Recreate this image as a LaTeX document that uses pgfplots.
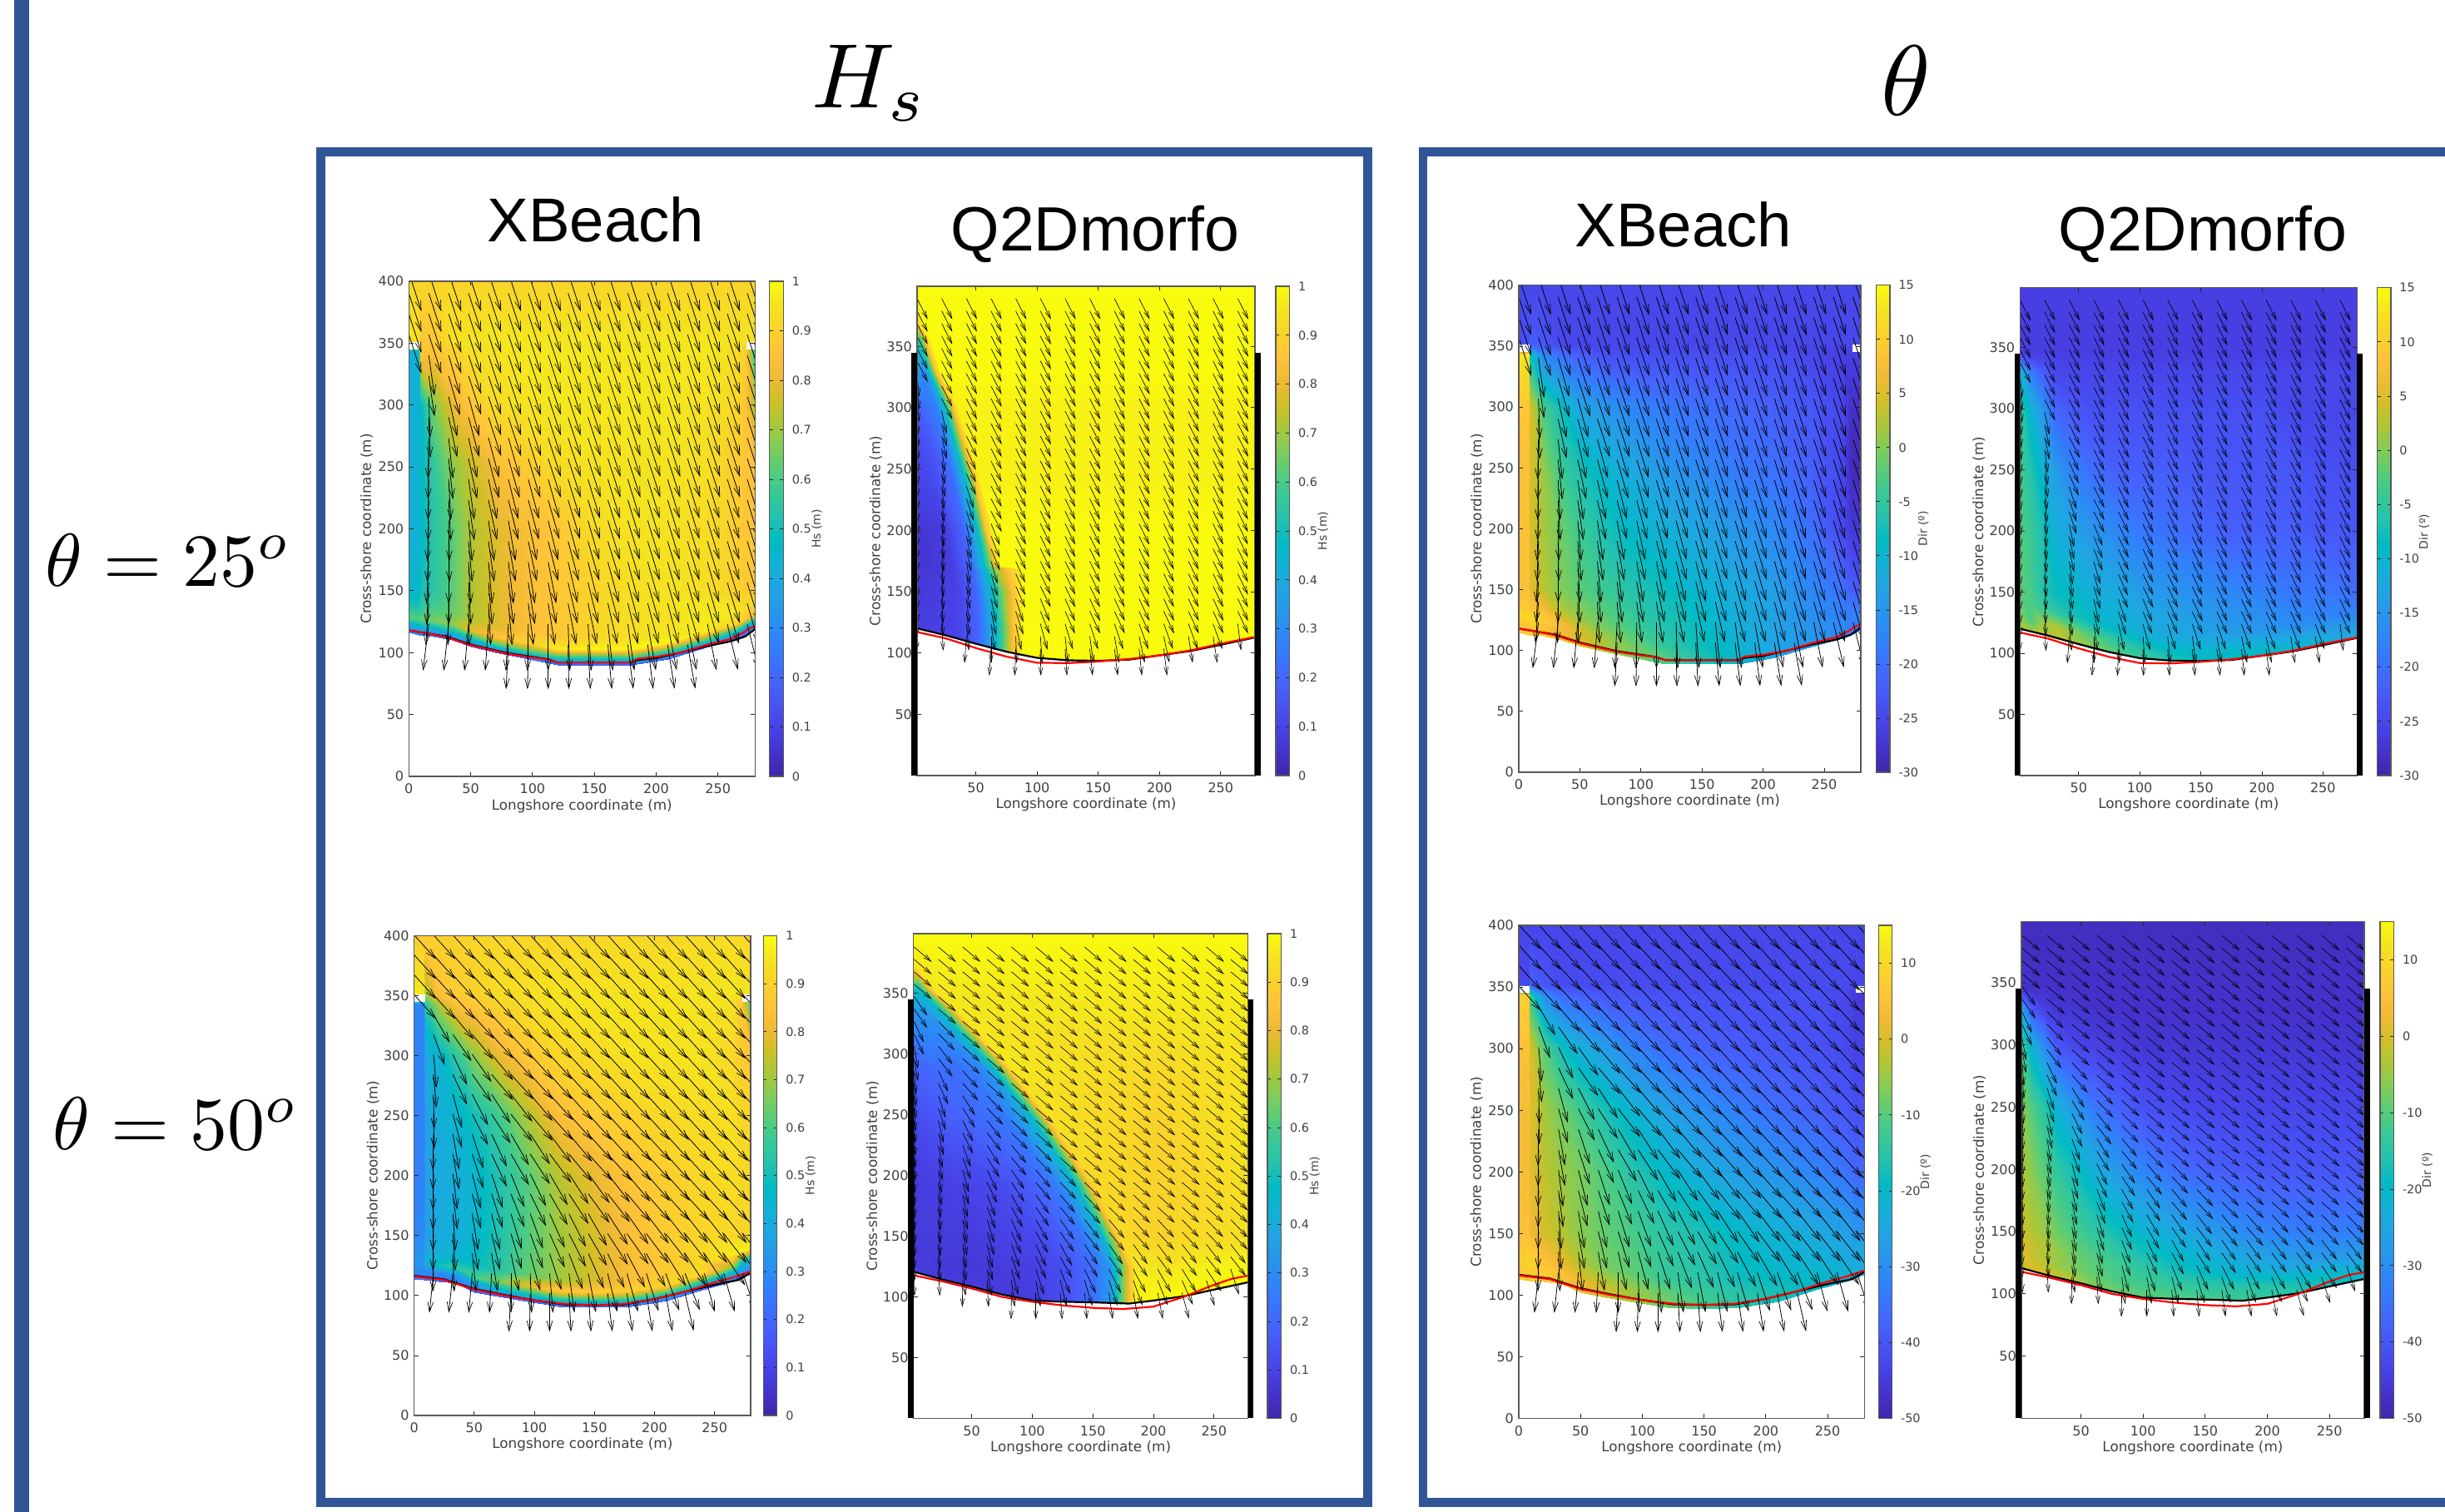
\documentclass[border=0pt]{standalone}
\usepackage{pgfplots}
\pgfplotsset{compat=1.18}
\usepackage{pgfplotstable}
\usetikzlibrary{arrows.meta}
\usepackage{fontspec}
\setmainfont{DejaVu Sans}
\newfontfamily\lib{Liberation Sans}
\definecolor{framec}{HTML}{2F5597}
\definecolor{txt}{gray}{0.25}
\pgfplotsset{colormap={parula}{rgb=(.2422,.1504,.6603) rgb=(.2647,.1978,.7952) rgb=(.2783,.2559,.8991) rgb=(.2810,.3228,.9579) rgb=(.2699,.3892,.9906) rgb=(.2206,.4603,.9973) rgb=(.1786,.5289,.9682) rgb=(.1540,.5902,.9218) rgb=(.1248,.6459,.8883) rgb=(.0689,.6948,.8394) rgb=(.0067,.7312,.7660) rgb=(.1408,.7584,.6842) rgb=(.2161,.7843,.5923) rgb=(.3406,.8008,.4789) rgb=(.5044,.7993,.3480) rgb=(.6720,.7793,.2227) rgb=(.8203,.7498,.1535) rgb=(.9393,.7288,.2100) rgb=(.9970,.7659,.2199) rgb=(.9786,.8280,.1633) rgb=(.9597,.8916,.1233) rgb=(.9763,.9831,.0538)}}
% ---------- arrows: tail rows, length, direction
\newcommand\ARstart[3]{\gdef\tbl{}\gdef\axo{#1}\gdef\adx{#2}\gdef\aN{#3}\pgfmathtruncatemacro\tmpn{#3-1}\xdef\aNm{\tmpn}}
\newcommand\ARe[4]{\ifnum#2=99 \else\pgfmathsetmacro\xx{\axo+#1*\adx}\pgfmathsetmacro\uu{#4*sin(#2)}\pgfmathsetmacro\vv{-#4*cos(#2)}\xdef\tbl{\tbl\xx\space#3\space\uu\space\vv\noexpand\\}\fi}
\newcommand\AR[3]{\foreach \yy in {#1}{\foreach \a [count=\i from 0] in {#3}{\ARe{\i}{\a}{\yy}{#2}\global\let\lasta\a\xdef\lasti{\i}}\pgfmathtruncatemacro\nx{\lasti+1}\ifnum\nx<\aN\relax\foreach \j in {\nx,...,\aNm}{\ARe{\j}{\lasta}{\yy}{#2}}\fi}}
\newcommand\ARend[1]{\edef\xtmp{\noexpand\pgfplotstableread[row sep=crcr]{x y u v\noexpand\\ \unexpanded\expandafter{\tbl}}\noexpand#1}\xtmp}
% ---------- colour fields
\newcommand\Fstart[3]{\gdef\flist{}\gdef\FX{#1}\gdef\FS{#2}\gdef\FN{#3}\pgfmathtruncatemacro\tmpn{#3-1}\xdef\FNm{\tmpn}}
\newcommand\Fe[2]{\def\ii{#1}\pgfmathsetmacro\fx{{\curx}[\ii]}\pgfmathsetmacro\fy{\cury}\xdef\flist{\flist(\fx,\fy)[#2]}}
\newcommand\FR[3]{\edef\curx{#1}\def\cury{#2}\foreach \v [count=\k from 0] in {#3}{\Fe{\k}{\v}\global\let\lastv\v\xdef\lastk{\k}}\pgfmathtruncatemacro\nk{\lastk+1}\ifnum\nk<\FN\relax\foreach \j in {\nk,...,\FNm}{\Fe{\j}{\lastv}}\fi}
\newcommand\RY[2]{\FR{\FX}{#1}{#2}}
\newcommand\RS[2]{\FR{\FX}{{\FS}[\ii]+#1}{#2}}
\newcommand\RX[3]{\FR{#2}{#1}{#3}}
\newcommand\RXY[3]{\FR{#1}{{#2}[\ii]}{#3}}
\def\XX{0,8,9,20,35,50,70,90,120,150,180,210,240,265,272,280}
\def\XQ{2,4,10,20,30,45,60,80,100,125,150,175,200,225,250,278}
% P1 Hs XBeach 25
\Fstart{\XX}{118,116,116,115,112,107,102,98,92,92,92,97,106,113,116,120}{16}
\RS{-2}{.27,.27,.27,.27,.14}
\RS{0}{.30,.30,.30,.30,.30,.32,.34,.36,.37,.37,.37,.37,.36,.32,.29,.29}
\RS{5}{.42,.42,.44,.44,.48,.54,.60,.62,.58,.58,.60,.62,.62,.54,.45,.42}
\RS{11}{.62,.62,.64,.66,.68,.80,.86,.89,.97,.99,.99,.99,.97,.92,.87,.82}
\RS{20}{.52,.52,.56,.60,.64,.72,.78,.83,.87,.91,.94,.95,.97,.96,.93,.93}
\RY{150}{.45,.45,.50,.55,.62,.72,.78,.83,.87,.91,.94,.95,.94,.90,.88,.87}
\RY{200}{.43,.43,.47,.54,.62,.72,.78,.83,.87,.93,.95,.95,.93,.89,.87,.86}
\RY{250}{.43,.43,.47,.56,.68,.75,.83,.87,.93,.95,.95,.95,.94,.88,.86,.85}
\RY{300}{.43,.43,.47,.66,.80,.87,.93,.95,.96,.96,.96,.96,.95,.92,.86,.72}
\RY{343}{.43,.43,.87,.85,.90,.94,.95,.96,.96,.96,.96,.96,.96,.94,.90,.55}
\RY{352}{.95,.95,.87,.87,.94,.95,.96,.96,.96,.96,.96,.96,.96,.95,.95,.95}
\RY{400}{.91}
\global\let\fA\flist
% P3 Hs XBeach 50
\Fstart{\XX}{116,115,115,114,112,105,101,98,93,92,93,98,107,114,117,120}{16}
\RS{-2}{.25,.25,.25,.25,.14}
\RS{0}{.27,.27,.27,.27,.27,.30,.32,.35,.36,.36,.36,.36,.35,.32,.27,.27}
\RS{5}{.30,.30,.30,.30,.34,.40,.48,.52,.58,.60,.60,.60,.54,.44,.36,.34}
\RS{11}{.33,.33,.42,.50,.55,.60,.66,.78,.89,.90,.90,.92,.92,.72,.52,.45}
\RS{20}{.32,.32,.40,.42,.45,.48,.54,.62,.70,.77,.84,.88,.92,.97,.98,.98}
\RY{150}{.29,.29,.37,.40,.42,.45,.52,.60,.70,.77,.84,.88,.91,.92,.91,.91}
\RY{200}{.27,.27,.37,.40,.42,.45,.52,.60,.73,.80,.86,.89,.92,.93,.92,.92}
\RY{250}{.27,.27,.37,.42,.45,.50,.58,.70,.84,.88,.90,.92,.93,.94,.92,.92}
\RY{300}{.28,.28,.40,.44,.55,.68,.80,.86,.91,.93,.95,.95,.95,.92,.88,.86}
\RY{343}{.28,.28,.55,.72,.85,.87,.90,.93,.95,.95,.95,.95,.95,.94,.87,.60}
\RY{352}{.96,.96,.70,.85,.88,.90,.93,.94,.95,.95,.95,.95,.95,.96,.95,.95}
\RY{400}{.89,.89,.89,.90,.90,.91,.91,.91,.91,.92,.92,.92,.93,.93,.92,.92}
\global\let\fC\flist
% P5 Dir XBeach 25
\Fstart{\XX}{118,116,116,115,112,107,102,98,92,92,92,97,106,113,116,120}{16}
\RS{-3}{9,9,10,8,7,5,2,0,-3,-7,-10,-13,-15,-17,-18,-18}
\RS{5}{9,9,10,8,7,5,2,0,-3,-7,-10,-13,-15,-17,-18,-18}
\RS{11}{11,11,12,10,7,4,1,-1,-5,-8,-10,-13,-15,-17,-18,-18}
\RS{20}{9,9,9,7,3,1,-1,-3,-6,-8,-11,-13,-16,-18,-19,-20}
\RY{150}{8,8,6,3,0,-2,-4,-6,-8,-10,-12,-14,-17,-20,-22,-23}
\RY{200}{8,8,5,2,-1,-4,-7,-9,-11,-13,-15,-17,-20,-25,-27,-27}
\RY{250}{8,8,5,1,-4,-7,-10,-12,-15,-17,-19,-20,-22,-25,-29,-29}
\RY{300}{9,9,5,-3,-8,-13,-15,-17,-19,-20,-21,-22,-23,-25,-28,-28}
\RY{343}{13,13,-8,-17,-20,-22,-24,-24,-24,-24,-24,-24,-25,-26,-26,-26}
\RY{352}{-24,-24,-22,-23,-25}
\RY{400}{-25}
\global\let\fE\flist
% P7 Dir XBeach 50
\Fstart{\XX}{116,115,115,114,112,105,101,98,93,92,93,98,107,114,117,120}{16}
\RS{-3}{7,7,8,7,5,3,-1,-4,-8,-12,-15,-17,-20,-22,-23,-23}
\RS{5}{7,7,8,7,5,3,-1,-4,-8,-12,-15,-17,-20,-22,-23,-23}
\RS{11}{8,8,9,6,3,0,-3,-6,-10,-13,-16,-18,-20,-23,-24,-24}
\RS{20}{7,7,8,4,1,-3,-7,-9,-13,-15,-18,-20,-22,-24,-25,-25}
\RY{150}{5,5,3,0,-3,-6,-9,-11,-15,-17,-20,-22,-24,-26,-28,-28}
\RY{200}{4,4,2,-2,-5,-7,-11,-15,-20,-24,-27,-29,-32,-35,-37,-37}
\RY{250}{4,4,1,-4,-8,-12,-17,-21,-26,-30,-33,-36,-38,-40,-41,-41}
\RY{300}{5,5,1,-10,-18,-23,-27,-32,-36,-38,-39,-40,-41,-42,-44,-44}
\RY{343}{8,8,-13,-30,-36,-38,-40,-40,-41,-41,-41,-41,-41,-43,-45,-46}
\RY{352}{-43,-43,-38,-40,-42,-42,-42,-42,-42,-42,-42,-42,-42,-42,-43,-43}
\RY{400}{-43}
\global\let\fG\flist
% P2 Hs Q2D 25
\def\Rt{100,125,150,175,200,225,250,278}
\Fstart{\XQ}{}{15}
\RXY{2,35,52,64,72,80,88,\Rt}{120,111,107,103,101.5,100,98.5,96,94,93.6,94.5,98,101.5,106.6,112.6}{.1,.1,.2,.42,.6,.85,1}
\RX{120}{2,35,52,64,72,80,88,\Rt}{.08,.1,.2,.42,.6,.85,1}
\RX{150}{2,35,50,62,70,80,88,\Rt}{.07,.1,.2,.45,.62,.85,1}
\RX{168}{2,30,47,58,64,76,88,\Rt}{.06,.08,.2,.45,.65,.85,1}
\RX{171}{2,30,45,56,62,66,70,\Rt}{.06,.08,.2,.45,.65,.85,1}
\RX{200}{2,25,40,50,55,58,64,\Rt}{.06,.08,.2,.45,.65,.85,1}
\RX{240}{2,15,32,41,46,49,53,\Rt}{.1,.12,.22,.45,.65,.85,.98}
\RX{270}{2,12,25,32,37,40,44,\Rt}{.12,.15,.25,.45,.65,.85,.98}
\RX{300}{2,10,18,24,28,31,35,\Rt}{.18,.22,.28,.45,.62,.85,.98}
\RX{330}{2,5,8,11,14,17,21,\Rt}{.35,.3,.3,.45,.62,.85,1}
\RX{355}{2,2.5,3,4,6,9,13,\Rt}{.55,.55,.55,.55,.65,.85,1}
\RX{370}{2,2.2,2.4,2.6,2.8,3,6,\Rt}{.9,.9,.9,.9,.9,.92,1}
\RX{399}{2,2.2,2.4,2.6,2.8,3,6,\Rt}{1}
\global\let\fB\flist
% P4 Hs Q2D 50
\Fstart{\XQ}{}{16}
\def\Rr{205,230,255,278}
\RXY{2,25,50,75,100,125,150,165,172,176,180,185,\Rr}{121,114.5,108.5,102,97,96,95.5,95,95,94.8,94.5,95,97.5,101,107,112}{.1,.08,.08,.08,.08,.13,.22,.35,.58,.7,.85,.98,1}
\RX{125}{2,25,50,75,100,125,150,165,172,176,180,185,\Rr}{.08,.07,.07,.08,.09,.13,.22,.35,.58,.7,.85,.96,.95,.97,.98,.99}
\RX{150}{2,25,50,80,105,125,143,157,163,167,170,173,\Rr}{.08,.08,.08,.1,.12,.18,.25,.42,.62,.75,.88,.92,.9,.92,.93,.94}
\RX{194}{2,20,40,70,95,110,120,134,140,144,147,150,\Rr}{.08,.09,.1,.12,.17,.22,.27,.45,.62,.75,.88,.92,.9,.91,.93,.94}
\RX{244}{2,15,30,50,65,80,87,101,107,111,114,117,\Rr}{.12,.14,.17,.2,.22,.24,.3,.45,.62,.75,.88,.94,.9,.92,.94,.95}
\RX{288}{2,12,24,36,44,50,60,67,73,77,80,83,\Rr}{.18,.2,.22,.22,.24,.26,.3,.45,.62,.75,.88,.96,.92,.93,.94,.95}
\RX{335}{2,4,6,8,10,12,14,23,29,33,36,39,\Rr}{.32,.33,.33,.33,.33,.33,.35,.45,.62,.75,.88,.96,.96}
\RX{354}{2,2.5,3,3.5,4,4.5,5,7,10,13,16,19,\Rr}{.5,.5,.5,.5,.5,.5,.5,.5,.62,.75,.88,.96,.97}
\RX{372}{2,2.2,2.4,2.6,2.8,3,3.2,3.4,3.6,3.8,4,30,\Rr}{.96,.96,.96,.96,.96,.96,.96,.96,.96,.96,.96,.98}
\RX{399}{2,3,4,5,6,7,8,9,10,11,12,13,\Rr}{1}
\global\let\fD\flist
% P6 Dir Q2D 25
\Fstart{\XQ}{120,119.5,118,115,112,109,104,100,96,94,93.6,94.5,98,101.5,106.6,112.6}{16}
\RS{0}{2,2,2,4,3,2,1,-2,-4,-6,-8,-8,-8,-9,-10,-12}
\RS{10}{0,0,-3,1,3,0,-2,-5,-7,-9,-10,-10,-11,-12,-13,-14}
\RS{22}{-2,-2,-3,-4,-5,-7,-8,-10,-11,-12,-13,-14,-15,-16,-17,-18}
\RY{150}{-2,-2,-3,-6,-8,-9,-11,-12,-14,-15,-16,-17,-18,-19,-19,-20}
\RY{200}{-3,-3,-4,-7,-11,-13,-15,-17,-19,-20,-21,-22,-22,-22,-23,-23}
\RY{250}{-3,-4,-6,-10,-14,-18,-20,-22,-22,-22,-23,-23,-23,-23,-24,-24}
\RY{300}{-6,-6,-10,-15,-21,-23,-24,-24,-24,-24,-24,-24,-24,-25,-25,-25}
\RY{330}{-10,-12,-18,-22,-25,-25,-25,-25,-25,-25,-25,-25,-25,-25,-25,-25}
\RY{345}{-26}
\RY{399}{-26}
\global\let\fF\flist
% P8 Dir Q2D 50
\Fstart{\XQ}{121,120.5,118.5,116,113,110,105.5,101,97,96,95.5,95,97,100.5,106,112}{16}
\RS{0}{-3,-2,1,0,-1,-3,-6,-8,-9,-10,-11,-12,-13,-15,-17,-20}
\RS{10}{-3,1,-1,-3,-5,-7,-9,-11,-12,-13,-14,-15,-16,-18,-20,-22}
\RS{22}{0,0,-2,-3,-5,-8,-10,-12,-14,-17,-19,-21,-23,-25,-27,-28}
\RY{150}{-1,-1,-3,-5,-8,-11,-14,-18,-21,-24,-27,-30,-32,-33,-33,-33}
\RY{200}{-3,-4,-6,-10,-14,-18,-23,-28,-32,-36,-38,-39,-40,-40,-40,-40}
\RY{250}{-6,-7,-10,-15,-22,-28,-34,-38,-41,-42,-43,-43,-43,-43,-43,-43}
\RY{300}{-12,-14,-22,-30,-40,-43,-44,-45,-46}
\RY{330}{-22,-30,-40,-44,-46,-46,-47}
\RY{345}{-47}
\RY{399}{-48}
\global\let\fH\flist
% arrow tables
\ARstart{0}{16.1}{18}
\AR{407,390.3,373.6,356.9}{33}{18}
\AR{340.2,323.5}{33}{99,8,16,18}
\AR{306.8,290.1}{33}{99,2,12,15,18}
\AR{273.4,256.7}{33}{99,-1,6,12,15,16,17,18}
\AR{240,223.3}{33}{99,-1,3,8,12,14,15,16,17}
\AR{206.6,189.9}{33}{99,-2,1,5,8,10,12,14,15,16,17}
\AR{173.2,156.5}{34}{99,-3,0,3,5,7,9,11,13,14,15,15,16,16,16,16,17}
\AR{139.8}{34}{99,-4,-1,1,3,5,7,9,11,12,13,14,15,15,16}
\AR{123.1}{38}{99,-7,-6,-5,-4,-3,-1,0,2,4,6,8,10,11,11,11,13,14}
\AR{106.4}{36}{99,99,99,99,99,-3,-1,0,1,3,5,7,7,9,10,99}
\ARend\tA
\ARstart{0}{16.1}{18}
\AR{400.6,384,367.4,350.8}{27}{42}
\AR{334.2}{27}{99,30,40,42}
\AR{317.6}{27}{99,20,35,40,42}
\AR{301,284.4}{28}{99,5,25,35,40,42}
\AR{267.8,251.2}{29}{99,1,15,27,33,38,40,42}
\AR{234.6,218}{30}{99,-1,10,18,25,30,33,37,40,42}
\AR{201.4,184.8}{30}{99,-1,7,14,18,22,26,30,33,36,38,40,41,42}
\AR{168.2,151.6}{31}{99,-1,4,9,13,17,20,24,27,30,33,35,37,38}
\AR{135}{32}{99,-1,2,6,9,12,15,18,21,24,26,28,30,32,33,33,34}
\AR{118.4}{33}{99,-6,-6,-5,-3,0,2,5,8,11,14,16,18,20,22,15,16,18}
\AR{101.8}{32}{99,99,99,99,99,-3,-1,0,3,4,7,8,9,10,13,99}
\ARend\tC
\ARstart{2}{20.15}{14}
\AR{389,378.8,368.6,358.4,348.2,338}{19}{27}
\AR{327.8,317.6,307.4}{19}{5,27}
\AR{297.2,287,276.8}{19}{3,12,27}
\AR{266.6,256.4,246.2}{19}{2,8,24,27}
\AR{236,225.8,215.6}{19}{2,6,18,27,26}
\AR{205.4,195.2,185}{19}{1,5,12,22,26}
\AR{174.8,164.6,154.4}{19}{1,4,9,16,24,26}
\AR{144.2,134}{20}{1,3,7,12,18,22,24,25}
\AR{123.8}{22}{0,3,5,8,12,15,17,18,19,20,20,20,20,7}
\AR{113.6}{22}{99,99,-4,0,2,4,6,8,10,12,12,9,9,99}
\AR{103.4}{22}{99,99,99,-4,-2,1,4,6,7,6,7,99}
\ARend\tB
\ARstart{2.5}{20.1}{14}
\AR{388,377.8,367.6,357.4}{19}{50}
\AR{347.2,337}{19}{35,50}
\AR{326.8,316.6}{19}{25,45,50}
\AR{306.4,296.2}{19}{10,38,48,50}
\AR{286,275.8}{19}{5,25,42,48,50}
\AR{265.6,255.4}{19}{4,18,32,44,48,50}
\AR{245.2,235}{19}{3,13,26,38,45,48,50}
\AR{224.8,214.6}{19}{3,10,20,32,40,45,48,50}
\AR{204.4,194.2}{19}{2,8,15,26,34,40,44,47,48,50}
\AR{184,173.8}{19}{2,6,12,21,29,35,40,44,46,47,48}
\AR{163.6,153.4}{20}{2,5,10,17,24,30,35,38,40,42,43,44}
\AR{143.2,133}{20}{1,4,8,13,20,25,29,33,35,36,37,38}
\AR{122.8}{22}{1,3,6,10,15,18,22,25,27,28,30,32,34,18}
\AR{113.6}{22}{99,99,-1,3,7,10,14,17,19,20,22,24,18,99}
\AR{103.4}{22}{99,99,99,99,-1,0,4,5,8,10,11,15,99}
\ARend\tD
% ---------- shorelines
\def\rA{(0,118)(12,116)(30,112.5)(50,106)(80,99)(100,96)(113,94.5)(120,92)(180,92)(185,95)(200,96.5)(220,100)(240,106)(260,111)(270,116)(276,120)(280,121)}
\def\kA{(0,118)(12,116)(30,113)(50,106.5)(80,99.5)(100,96.5)(113,94.5)(120,92)(180,92)(185,94)(200,95.5)(220,100)(240,105)(260,109)(272,113)(280,119)}
\def\rC{(0,116)(25,113)(50,105)(75,100)(100,96)(125,93)(150,92)(175,93)(200,97)(225,103)(250,111)(265,115)(280,120)}
\def\kC{(0,116.5)(25,113.5)(50,105.5)(75,100.5)(100,96)(125,92.5)(150,92)(175,92.5)(200,97)(225,103)(250,109)(270,113)(280,119)}
\def\rB{(2,117)(25,112)(50,104)(75,97)(100,92)(125,91.7)(150,93)(175,95)(200,98)(225,102)(250,107.5)(278,113)}
\def\kB{(2,120)(25,114.5)(50,107.5)(75,101)(100,96)(125,94)(150,93.6)(175,94.5)(200,98)(225,101.5)(250,106.6)(278,112.6)}
\def\rD{(1,118)(25,113)(50,107)(75,100)(100,96)(125,93)(150,91)(175,90)(200,92)(225,100)(250,110)(265,115)(278,117.5)}
\def\kD{(1,121)(25,114.5)(50,108.5)(75,102)(100,97)(125,96)(150,95.5)(180,94.5)(200,97)(225,100.5)(250,106)(278,112)}
\newcommand\lblfont{\fontsize{4.2}{5}\selectfont\color{txt}}
\newcommand\cblfont{\fontsize{3.5}{4.5}\selectfont\color{txt}}
\pgfplotsset{
 base/.style={scale only axis,axis on top,clip=true,
  axis line style={draw=gray!70!black,line width=.3pt},
  tick style={draw=gray!30!black,line width=.2pt},tick align=inside,major tick length=1.3pt,
  tick label style={font=\fontsize{4}{5}\selectfont,text=txt},
  /pgf/number format/assume math mode=true,
  xtick pos=both,ytick pos=both,yticklabel pos=left,xticklabel pos=bottom,
  xlabel={Longshore coordinate (m)},ylabel={Cross-shore coordinate (m)},
  every axis x label/.style={at={(axis description cs:.5,-.06)},anchor=center,font=\lblfont},
  every axis y label/.style={at={(axis description cs:-.122,.5)},rotate=90,anchor=center,font=\lblfont},
  xticklabel style={yshift=1.3pt},yticklabel style={xshift=2pt},
  colormap name=parula,colorbar},
 xb/.style={xmin=0,xmax=280,ymin=0,ymax=400,xtick={0,50,100,150,200,250},ytick={0,50,100,150,200,250,300,350,400}},
 qd/.style={xmin=2,xmax=278,ymin=0,ymax=399,xtick={50,100,150,200,250},ytick={50,100,150,200,250,300,350},
  after end axis/.code={\draw[black,line width=1.65pt] ([xshift=-.82pt]axis cs:2,0)--([xshift=-.82pt]axis cs:2,345) ([xshift=.82pt]axis cs:278,0)--([xshift=.82pt]axis cs:278,345);}},
 hs/.style={point meta min=0,point meta max=1,colorbar style={ylabel={Hs (m)},ytick={0,.1,.2,.3,.4,.5,.6,.7,.8,.9,1},yticklabels={0,0.1,0.2,0.3,0.4,0.5,0.6,0.7,0.8,0.9,1}}},
 dA/.style={point meta min=-30,point meta max=15,colorbar style={ylabel={Dir (º)},ytick={-30,-25,-20,-15,-10,-5,0,5,10,15}}},
 dB/.style={point meta min=-50,point meta max=15,colorbar style={ylabel={Dir (º)},ytick={-50,-40,-30,-20,-10,0,10}}},
 arrX/.style={quiver={u=\thisrow{u},v=\thisrow{v}},black,line width=.2pt,-{Straight Barb[length=3pt,width=1.7pt,line width=.17pt]}},
 arrQ/.style={quiver={u=\thisrow{u},v=\thisrow{v}},black,line width=.16pt,-{Straight Barb[length=2.3pt,width=1.2pt,line width=.15pt]}},
}
\newcommand\pfield[2]{\edef\xtmp{\noexpand\addplot[surf,shader=interp,mesh/cols=#2,point meta=explicit,forget plot] coordinates {\unexpanded\expandafter{#1}};}\xtmp}
\newcommand\notch{\addplot[fill=white,draw=none,forget plot] coordinates {(0,345)(9,345)(9,351)(0,351)} --cycle;\addplot[fill=white,draw=none,forget plot] coordinates {(273,345)(280,345)(280,351)(273,351)} --cycle;}
\newcommand\lines[2]{\edef\xtmp{\noexpand\addplot[black,line width=.55pt,forget plot] coordinates {\unexpanded\expandafter{#2}};\noexpand\addplot[red,line width=.55pt,forget plot] coordinates {\unexpanded\expandafter{#1}};}\xtmp}
\newcommand\panel[7]{%
 \pgfmathsetmacro\pw{(#3-#1)*.25}\pgfmathsetmacro\ph{(#4-#2)*.25}\pgfmathsetmacro\cbs{(#5-#3)*.25}%
 \begin{axis}[at={(#1*.25pt,-#2*.25pt)},anchor=north west,width=\pw pt,height=\ph pt,base,#6,
  colorbar shift/.style={xshift=\cbs pt},
  colorbar style={scale only axis,width=4.1pt,height=\ph pt,
   tick label style={font=\fontsize{3.6}{5}\selectfont,text=txt},/pgf/number format/assume math mode=true,
   axis line style={draw=gray!70!black,line width=.3pt},tick style={draw=gray!30!black,line width=.2pt},major tick length=1pt,
   yticklabel pos=right,
   every axis y label/.style={at={(axis description cs:3.45,.5)},rotate=90,anchor=center,font=\cblfont},yticklabel style={xshift=-.9pt}}]
 #7
 \end{axis}}
\begin{document}
\begin{tikzpicture}
\useasboundingbox (0,0) rectangle (734.5pt,-454.25pt);
\fill[framec] (17*.25pt,0) rectangle (35*.25pt,-454.25pt);
\draw[framec,line width=2.6pt] (385.5*.25pt,-182.5*.25pt) rectangle (1643.5*.25pt,-1805.5*.25pt);
\draw[framec,line width=2.6pt] (3000*.25pt,-182.5*.25pt) -- (1710*.25pt,-182.5*.25pt) -- (1710*.25pt,-1805.5*.25pt) -- (3000*.25pt,-1805.5*.25pt);
\node[scale=2.75] at (1045*.25pt,-100*.25pt) {$H_s$};
\node[scale=3.0] at (2290*.25pt,-97*.25pt) {$\theta$};
\node[scale=2.25] at (202*.25pt,-673*.25pt) {$\theta = 25^{o}$};
\node[scale=2.25] at (211*.25pt,-1350*.25pt) {$\theta = 50^{o}$};
\node at (716*.25pt,-264*.25pt) {\lib\fontsize{18.6}{20}\selectfont XBeach};
\node at (1316*.25pt,-281*.25pt) {\lib\fontsize{18.8}{20}\selectfont Q2Dmorfo};
\node at (2023*.25pt,-270*.25pt) {\lib\fontsize{18.6}{20}\selectfont XBeach};
\node at (2647*.25pt,-281*.25pt) {\lib\fontsize{18.8}{20}\selectfont Q2Dmorfo};
\panel{491.3}{338}{907.3}{933}{924.3}{xb,hs}{\pfield{\fA}{16}\notch\lines{\rA}{\kA}\addplot[arrX,forget plot] table {\tA};}
\panel{1102}{344}{1508}{932}{1526.5}{qd,hs}{\pfield{\fB}{15}\lines{\rB}{\kB}\addplot[arrQ,forget plot] table {\tB};}
\panel{497.7}{1124.5}{902}{1701}{916.8}{xb,hs}{\pfield{\fC}{16}\notch\lines{\rC}{\kC}\addplot[arrX,forget plot] table {\tC};}
\panel{1097.6}{1122}{1499.6}{1704.5}{1516.5}{qd,hs}{\pfield{\fD}{16}\lines{\rD}{\kD}\addplot[arrQ,forget plot] table {\tD};}
\panel{1825}{342.8}{2236}{928}{2254}{xb,dA}{\pfield{\fE}{16}\notch\lines{\rA}{\kA}\addplot[arrX,forget plot] table {\tA};}
\panel{2427.3}{345.7}{2832.4}{932}{2849.9}{qd,dA}{\pfield{\fF}{16}\lines{\rB}{\kB}\addplot[arrQ,forget plot] table {\tB};}
\panel{1825}{1112}{2240.6}{1704.5}{2256.6}{xb,dB}{\pfield{\fG}{16}\notch\lines{\rC}{\kC}\addplot[arrX,forget plot] table {\tC};}
\panel{2428.9}{1107.6}{2841}{1704.5}{2853.5}{qd,dB}{\pfield{\fH}{16}\lines{\rD}{\kD}\addplot[arrQ,forget plot] table {\tD};}
\end{tikzpicture}
\end{document}
